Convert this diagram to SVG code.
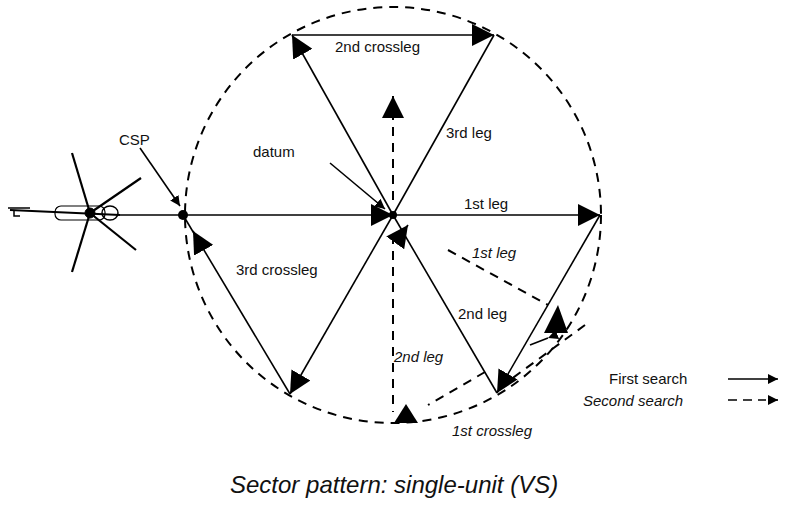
<svg xmlns="http://www.w3.org/2000/svg" width="800" height="506" viewBox="0 0 800 506">
<defs>
<marker id="a" viewBox="0 0 10 10" refX="10" refY="5" markerWidth="10" markerHeight="10" markerUnits="userSpaceOnUse" orient="auto"><path d="M0,0L10,5L0,10z" fill="#000"/></marker>
<marker id="big" viewBox="0 0 10 10" refX="10" refY="5" markerWidth="22" markerHeight="22" markerUnits="userSpaceOnUse" orient="auto"><path d="M0,0L10,5L0,10z" fill="#000"/></marker>
</defs>
<style>
.s{stroke:#000;stroke-width:1.6;fill:none}
.d{stroke:#000;stroke-width:2;fill:none;stroke-dasharray:9 7}
.t{font-family:"Liberation Sans",Arial,sans-serif;font-size:15px;fill:#111}
.i{font-style:italic}
</style>
<rect width="800" height="506" fill="#fff"/>
<g id="circle"><circle cx="393" cy="215" r="208" class="d"/></g>
<g id="helicopter" stroke="#000" fill="none">
<line x1="10" y1="210" x2="120" y2="215" stroke-width="2"/>
<rect x="55" y="206" width="50" height="14" rx="6" stroke-width="1.2"/>
<ellipse cx="110" cy="213" rx="8" ry="7" stroke-width="1.5"/>
<line x1="8" y1="208" x2="30" y2="208" stroke-width="1.5"/>
<path d="M14,210v6h6" stroke-width="1.5"/>
<line x1="72" y1="153" x2="90" y2="213" stroke-width="2.2"/>
<line x1="141" y1="178" x2="90" y2="213" stroke-width="2.2"/>
<line x1="136" y1="250" x2="90" y2="213" stroke-width="2.2"/>
<line x1="72" y1="272" x2="90" y2="213" stroke-width="2.2"/>
<circle cx="90" cy="213" r="5" fill="#000"/>
</g>
<g id="connectors">
<line x1="120" y1="215" x2="183" y2="215" class="s"/>
<line x1="183" y1="215" x2="393" y2="215" class="s" marker-end="url(#big)"/>
<line x1="393" y1="215" x2="600" y2="215" class="s" marker-end="url(#big)"/>
<line x1="600" y1="215" x2="497" y2="393" class="s" marker-end="url(#big)"/>
<line x1="497" y1="393" x2="393" y2="215" class="s"/>
<path d="M403,232 l5,-7" class="s" marker-end="url(#big)"/>
<line x1="393" y1="215" x2="290" y2="394" class="s" marker-end="url(#big)"/>
<line x1="290" y1="394" x2="183" y2="215" class="s"/>
<path d="M198,240 l-5,-9" class="s" marker-end="url(#big)"/>
<line x1="393" y1="215" x2="292" y2="35" class="s" marker-end="url(#big)"/>
<line x1="292" y1="35" x2="494" y2="35" class="s" marker-end="url(#big)"/>
<line x1="494" y1="35" x2="393" y2="215" class="s"/>
<line x1="393" y1="200" x2="393" y2="96" class="d" marker-end="url(#big)"/>
<line x1="393" y1="235" x2="393" y2="412" class="d"/>
<line x1="448" y1="250" x2="548" y2="305" class="d"/>
<polygon points="544,333 568,333 558,305" fill="#000"/>
<line x1="585" y1="325" x2="510" y2="380" class="d"/>
<line x1="548" y1="338" x2="530" y2="345" class="s" marker-start="url(#a)"/>
<line x1="485" y1="372" x2="428" y2="405" class="d"/>
<polygon points="394,423 418,423 406,404" fill="#000"/>
<line x1="140" y1="148" x2="180" y2="206" class="s" marker-end="url(#a)"/>
<line x1="330" y1="163" x2="385" y2="209" class="s" marker-end="url(#a)"/>
<line x1="728" y1="379" x2="778" y2="379" class="s" marker-end="url(#a)"/>
<line x1="728" y1="400" x2="766" y2="400" class="s" stroke-dasharray="9 6"/>
<line x1="768" y1="400" x2="778" y2="400" class="s" marker-end="url(#a)"/>
</g>
<circle cx="183" cy="215" r="5" fill="#000"/>
<circle cx="393" cy="215" r="4" fill="#000"/>
<g id="labels">
<text x="119" y="145" class="t">CSP</text>
<text x="253" y="157" class="t">datum</text>
<text x="335" y="52" class="t">2nd crossleg</text>
<text x="446" y="138" class="t">3rd leg</text>
<text x="464" y="209" class="t">1st leg</text>
<text x="472" y="258" class="t i">1st leg</text>
<text x="458" y="319" class="t">2nd leg</text>
<text x="236" y="275" class="t">3rd crossleg</text>
<text x="394" y="362" class="t i">2nd leg</text>
<text x="452" y="436" class="t i">1st crossleg</text>
<text x="609" y="384" class="t">First search</text>
<text x="583" y="406" class="t i">Second search</text>
<text x="230" y="493" font-family="Liberation Sans,Arial,sans-serif" font-size="24" font-style="italic" fill="#111">Sector pattern: single-unit (VS)</text>
</g>
</svg>
